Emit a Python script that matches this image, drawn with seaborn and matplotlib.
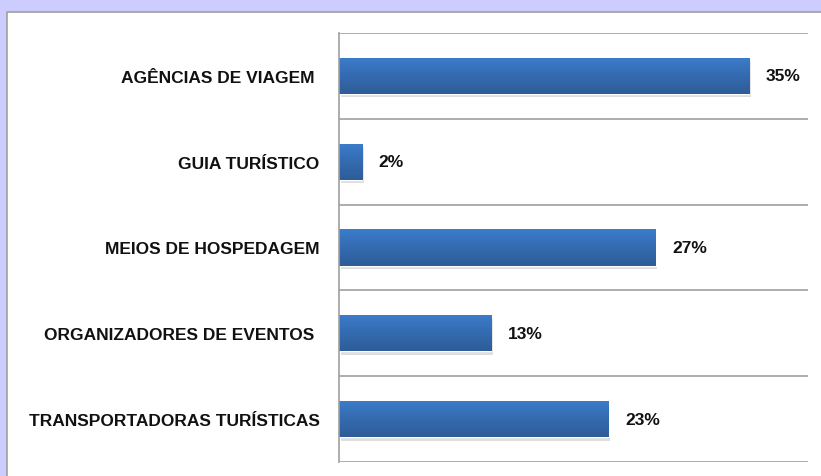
import matplotlib
matplotlib.use("Agg")
import matplotlib.pyplot as plt
import seaborn as sns
import numpy as np
import pandas as pd
from matplotlib.patches import Rectangle
from matplotlib.colors import LinearSegmentedColormap

categories = ["AGÊNCIAS DE VIAGEM ", "GUIA TURÍSTICO", "MEIOS DE HOSPEDAGEM",
              "ORGANIZADORES DE EVENTOS ", "TRANSPORTADORAS TURÍSTICAS"]
values = [35, 2, 27, 13, 23]
value_labels = ["35%", "2%", "27%", "13%", "23%"]

sns.set_theme(style="white")
plt.rcParams['font.family'] = ['Liberation Sans', 'DejaVu Sans']

fig = plt.figure(figsize=(8.21, 4.77), dpi=100)
fig.patch.set_facecolor("#CCCCFF")
# white panel
panel = Rectangle((7/821, -0.1), 1.2, 1 - 13/477 + 0.1, transform=fig.transFigure,
                  facecolor="white", edgecolor="#A0A0A0", linewidth=1.2, zorder=-10)
fig.add_artist(panel)

ax = fig.add_axes([339/821, 1 - 463/477, (808 - 339)/821, (463 - 34)/477])
ax.set_facecolor("none")

df = pd.DataFrame({"cat": categories, "val": values})
sns.barplot(data=df, x="val", y="cat", orient="h", color="#3A74C0", width=0.42,
            saturation=1, ax=ax, zorder=3)

# gradient fill + subtle shadow
grad = np.linspace(0, 1, 100).reshape(-1, 1)
cmap = LinearSegmentedColormap.from_list("g", ["#3B7DCB", "#346BB0", "#2E5C98"])
for p in list(ax.patches):
    x0, y0 = p.get_x(), p.get_y()
    w, h = p.get_width(), p.get_height()
    sh = Rectangle((x0 + 0.15, y0 + 0.04), w, h, facecolor="#C8C8C8", edgecolor="none",
                   alpha=0.6, zorder=2)
    ax.add_patch(sh)
    im = ax.imshow(grad, extent=[x0, x0 + w, y0 + h, y0], aspect="auto", cmap=cmap,
                   zorder=4, interpolation="bicubic")
    im.set_clip_path(p)

for i, (v, lab) in enumerate(zip(values, value_labels)):
    ax.text(v + 1.4, i, lab, va="center", ha="left", fontsize=12.5, fontweight="bold",
            color="#111111", zorder=5)

ax.set_xlim(0, 40)
ax.set_ylim(4.5, -0.5)
for yb in np.arange(-0.5, 5.0, 1.0):
    ax.axhline(yb, color="#A0A0A0", linewidth=1.2, zorder=1)

ax.set_xlabel("")
ax.set_ylabel("")
ax.set_xticks([])
ax.tick_params(axis="y", length=0, pad=14, labelsize=12.5)
for t in ax.get_yticklabels():
    t.set_fontweight("bold")
    t.set_color("#111111")
for s in ["top", "right", "bottom"]:
    ax.spines[s].set_visible(False)
ax.spines["left"].set_color("#A0A0A0")
ax.spines["left"].set_linewidth(1.2)
ax.spines["left"].set_zorder(6)

fig.savefig("out.png", dpi=100, facecolor=fig.get_facecolor())
